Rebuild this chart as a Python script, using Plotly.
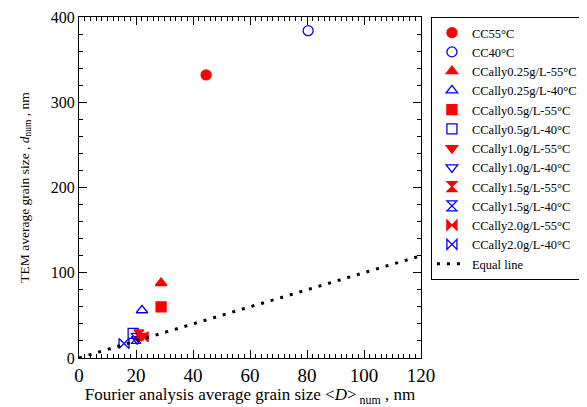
import plotly.graph_objects as go

names = ["CC55°C", "CC40°C",
         "CCally0.25g/L-55°C", "CCally0.25g/L-40°C",
         "CCally0.5g/L-55°C", "CCally0.5g/L-40°C",
         "CCally1.0g/L-55°C", "CCally1.0g/L-40°C",
         "CCally1.5g/L-55°C", "CCally1.5g/L-40°C",
         "CCally2.0g/L-55°C", "CCally2.0g/L-40°C"]
fourier_D = [44.6, 80.4, 28.8, 22.1, 28.8, 19.0, 21.8, 20.4, 21.0, 20.0, 22.5, 15.8]
tem_d = [332, 384, 88, 56, 60, 29, 26, 22, 27, 23, 25, 17]
symbols = ["circle", "circle-open", "triangle-up", "triangle-up-open",
           "square", "square-open", "triangle-down", "triangle-down-open",
           "hourglass", "hourglass-open", "bowtie", "bowtie-open"]
colors = ["#ff0000", "#0000ff"] * 6
equal_x = [0, 120]
equal_y = [0, 120]

fig = go.Figure()
for n, x, y, s, c in zip(names, fourier_D, tem_d, symbols, colors):
    fig.add_trace(go.Scatter(x=[x], y=[y], mode="markers", name=n,
                             marker=dict(symbol=s, size=10, color=c,
                                         line=dict(color=c, width=1.3))))
fig.add_trace(go.Scatter(x=equal_x, y=equal_y, mode="lines", name="Equal line",
                         line=dict(color="black", width=3, dash="3px,7px")))

font = "Times New Roman, Liberation Serif, serif"
fig.update_layout(
    width=579, height=399,
    margin=dict(l=71, r=166, t=9, b=49, autoexpand=False),
    paper_bgcolor="white", plot_bgcolor="white",
    font=dict(family=font, size=16, color="black"),
    showlegend=True,
    legend=dict(x=1.029, y=1, xanchor="left", yanchor="top",
                bordercolor="black", borderwidth=1, bgcolor="white",
                font=dict(family=font, size=12.5), tracegroupgap=0,
                itemwidth=30),
    xaxis=dict(range=[0, 120], dtick=20, showline=True, linecolor="black",
               linewidth=1, mirror="ticks", ticks="inside", ticklen=8,
               tickcolor="black", showgrid=False, zeroline=False,
               tickfont=dict(family=font, size=19),
               minor=dict(dtick=2, ticks="inside", ticklen=4, tickcolor="black"),
               title=dict(text="Fourier analysis average grain size &lt;<i>D</i>&gt;<sub> num</sub> , nm",
                          font=dict(family=font, size=17), standoff=2)),
    yaxis=dict(range=[0, 400], dtick=100, showline=True, linecolor="black",
               linewidth=1, mirror="ticks", ticks="inside", ticklen=8,
               tickcolor="black", showgrid=False, zeroline=False,
               tickfont=dict(family=font, size=16),
               minor=dict(dtick=20, ticks="inside", ticklen=4, tickcolor="black"),
               title=dict(text="TEM average grain size , <i>d</i><sub>num</sub> , nm",
                          font=dict(family=font, size=13.5), standoff=18)),
)
fig.write_html("out.html")
